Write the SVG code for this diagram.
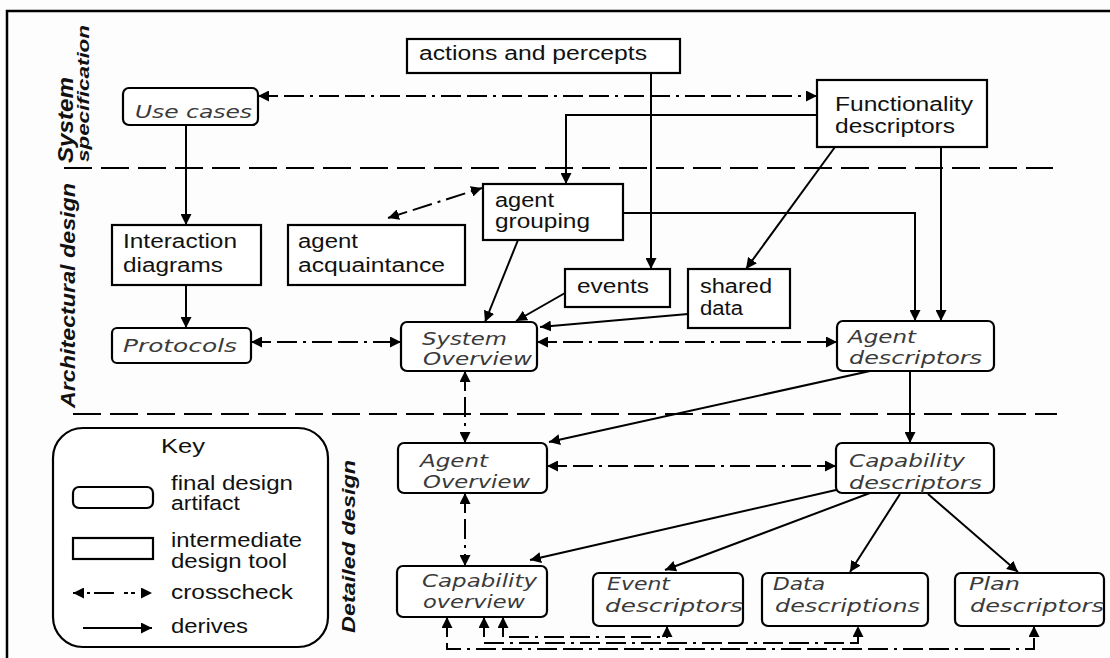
<svg xmlns="http://www.w3.org/2000/svg" width="1110" height="658" viewBox="0 0 1110 658">
<style>
.bg{fill:#fdfdfd}
.frame{fill:none;stroke:#000;stroke-width:2.5}
.sep{fill:none;stroke:#000;stroke-width:2;stroke-dasharray:28 9}
.box{fill:#fff;stroke:#000;stroke-width:2.2}
.t{font-family:"Liberation Sans",Arial,sans-serif;font-size:20px;fill:#111}
.ti{font-family:"DejaVu Sans",sans-serif;font-style:italic;font-size:18px;fill:#3a3a3a}
.lbl{font-family:"Liberation Sans",Arial,sans-serif;font-weight:bold;font-style:italic;fill:#111}
.d{fill:none;stroke:#000;stroke-width:2;marker-end:url(#ah)}
.x{fill:none;stroke:#000;stroke-width:2;stroke-dasharray:20 6 20 6 3 6;marker-start:url(#ah);marker-end:url(#ah)}
</style>
<defs>
<marker id="ah" viewBox="0 0 10 10" refX="10" refY="5" markerWidth="11" markerHeight="11" markerUnits="userSpaceOnUse" orient="auto-start-reverse"><path d="M0,0 L10,5 L0,10 z" fill="#000"/></marker>
</defs>
<rect class="bg" x="0" y="0" width="1110" height="658"/>
<path class="frame" d="M7,658 V11 H1110"/>
<g id="separators">
<path class="sep" d="M64,168 H1053"/>
<path class="sep" d="M73,414 H1057"/>
</g>
<g id="section-labels">
<text class="lbl" font-size="22" transform="translate(73,163) rotate(-90)" textLength="86" lengthAdjust="spacingAndGlyphs">System</text>
<text class="lbl" font-size="16" transform="translate(89,162) rotate(-90)" textLength="137" lengthAdjust="spacingAndGlyphs">specification</text>
<text class="lbl" font-size="21" transform="translate(75,408) rotate(-90)" textLength="225" lengthAdjust="spacingAndGlyphs">Architectural design</text>
<text class="lbl" font-size="19" transform="translate(355,633) rotate(-90)" textLength="173" lengthAdjust="spacingAndGlyphs">Detailed design</text>
</g>
<g id="connectors">
<path class="d" d="M186,125 V225"/>
<path class="d" d="M186,285 V328"/>
<path class="d" d="M817,115 H566 V184"/>
<path class="d" d="M651,73 V269"/>
<path class="d" d="M835,147 L746,269"/>
<path class="d" d="M941,147 V321"/>
<path class="d" d="M623,213 H915 V321"/>
<path class="d" d="M518,240 L485,322"/>
<path class="d" d="M565,293 L516,321"/>
<path class="d" d="M688,314 L540,327"/>
<path class="d" d="M870,371 L549,442"/>
<path class="d" d="M910,371 V443"/>
<path class="d" d="M836,490 L530,560"/>
<path class="d" d="M870,493 L665,570"/>
<path class="d" d="M900,494 L850,572"/>
<path class="d" d="M928,494 L1018,572"/>
<path class="x" d="M258,96 H817"/>
<path class="x" d="M388,218 L482,188"/>
<path class="x" d="M251,342 H401"/>
<path class="x" d="M537,342 H837"/>
<path class="x" d="M465,371 V443"/>
<path class="x" d="M547,466 H836"/>
<path class="x" d="M465,493 V566"/>
<path class="x" d="M503,617 V637 H667 V626"/>
<path class="x" d="M484,617 V643 H858 V626"/>
<path class="x" d="M447,617 V649 H1034 V626"/>
</g>
<g id="actions-and-percepts">
<rect class="box" x="407" y="39" width="273" height="34"/>
<text class="t" x="419" y="60" textLength="228" lengthAdjust="spacingAndGlyphs">actions and percepts</text>
</g>
<g id="use-cases">
<rect class="box" x="123" y="88" width="135" height="37" rx="6"/>
<text class="ti" x="135" y="118" textLength="117" lengthAdjust="spacingAndGlyphs">Use cases</text>
</g>
<g id="functionality-descriptors">
<rect class="box" x="817" y="80" width="170" height="67"/>
<text class="t" x="835" y="111" textLength="138" lengthAdjust="spacingAndGlyphs">Functionality</text>
<text class="t" x="835" y="133" textLength="120" lengthAdjust="spacingAndGlyphs">descriptors</text>
</g>
<g id="interaction-diagrams">
<rect class="box" x="112" y="225" width="149" height="60"/>
<text class="t" x="123" y="248" textLength="114" lengthAdjust="spacingAndGlyphs">Interaction</text>
<text class="t" x="123" y="272" textLength="100" lengthAdjust="spacingAndGlyphs">diagrams</text>
</g>
<g id="agent-acquaintance">
<rect class="box" x="288" y="225" width="177" height="60"/>
<text class="t" x="298" y="248" textLength="60" lengthAdjust="spacingAndGlyphs">agent</text>
<text class="t" x="298" y="272" textLength="147" lengthAdjust="spacingAndGlyphs">acquaintance</text>
</g>
<g id="agent-grouping">
<rect class="box" x="483" y="184" width="140" height="56"/>
<text class="t" x="495" y="207" textLength="59" lengthAdjust="spacingAndGlyphs">agent</text>
<text class="t" x="495" y="228" textLength="95" lengthAdjust="spacingAndGlyphs">grouping</text>
</g>
<g id="events">
<rect class="box" x="565" y="269" width="105" height="38"/>
<text class="t" x="577" y="293" textLength="72" lengthAdjust="spacingAndGlyphs">events</text>
</g>
<g id="shared-data">
<rect class="box" x="688" y="269" width="102" height="59"/>
<text class="t" x="700" y="293" textLength="72" lengthAdjust="spacingAndGlyphs">shared</text>
<text class="t" x="700" y="315" textLength="43" lengthAdjust="spacingAndGlyphs">data</text>
</g>
<g id="protocols">
<rect class="box" x="112" y="328" width="139" height="35" rx="5"/>
<text class="ti" x="123" y="352" textLength="114" lengthAdjust="spacingAndGlyphs">Protocols</text>
</g>
<g id="system-overview">
<rect class="box" x="401" y="322" width="136" height="49" rx="6"/>
<text class="ti" x="422" y="345" textLength="85" lengthAdjust="spacingAndGlyphs">System</text>
<text class="ti" x="423" y="365" textLength="109" lengthAdjust="spacingAndGlyphs">Overview</text>
</g>
<g id="agent-descriptors">
<rect class="box" x="837" y="321" width="157" height="50" rx="6"/>
<text class="ti" x="848" y="343" textLength="68" lengthAdjust="spacingAndGlyphs">Agent</text>
<text class="ti" x="849" y="364" textLength="133" lengthAdjust="spacingAndGlyphs">descriptors</text>
</g>
<g id="agent-overview">
<rect class="box" x="398" y="443" width="149" height="50" rx="6"/>
<text class="ti" x="420" y="467" textLength="68" lengthAdjust="spacingAndGlyphs">Agent</text>
<text class="ti" x="423" y="488" textLength="107" lengthAdjust="spacingAndGlyphs">Overview</text>
</g>
<g id="capability-descriptors">
<rect class="box" x="836" y="443" width="158" height="50" rx="6"/>
<text class="ti" x="849" y="467" textLength="116" lengthAdjust="spacingAndGlyphs">Capability</text>
<text class="ti" x="849" y="489" textLength="133" lengthAdjust="spacingAndGlyphs">descriptors</text>
</g>
<g id="capability-overview">
<rect class="box" x="397" y="566" width="150" height="51" rx="6"/>
<text class="ti" x="422" y="587" textLength="115" lengthAdjust="spacingAndGlyphs">Capability</text>
<text class="ti" x="423" y="608" textLength="102" lengthAdjust="spacingAndGlyphs">overview</text>
</g>
<g id="event-descriptors">
<rect class="box" x="593" y="573" width="150" height="53" rx="6"/>
<text class="ti" x="607" y="590" textLength="63" lengthAdjust="spacingAndGlyphs">Event</text>
<text class="ti" x="605" y="612" textLength="138" lengthAdjust="spacingAndGlyphs">descriptors</text>
</g>
<g id="data-descriptions">
<rect class="box" x="762" y="573" width="166" height="53" rx="6"/>
<text class="ti" x="773" y="590" textLength="52" lengthAdjust="spacingAndGlyphs">Data</text>
<text class="ti" x="775" y="612" textLength="145" lengthAdjust="spacingAndGlyphs">descriptions</text>
</g>
<g id="plan-descriptors">
<rect class="box" x="955" y="573" width="149" height="53" rx="6"/>
<text class="ti" x="969" y="590" textLength="51" lengthAdjust="spacingAndGlyphs">Plan</text>
<text class="ti" x="970" y="612" textLength="134" lengthAdjust="spacingAndGlyphs">descriptors</text>
</g>
<g id="key">
<rect class="box" x="53" y="428" width="275" height="219" rx="30"/>
<text class="t" x="161" y="453" textLength="44" lengthAdjust="spacingAndGlyphs">Key</text>
<rect class="box" x="73" y="487" width="80" height="21" rx="6"/>
<text class="t" x="171" y="490" textLength="122" lengthAdjust="spacingAndGlyphs">final design</text>
<text class="t" x="171" y="510" textLength="69" lengthAdjust="spacingAndGlyphs">artifact</text>
<rect class="box" x="73" y="538" width="80" height="21"/>
<text class="t" x="171" y="547" textLength="131" lengthAdjust="spacingAndGlyphs">intermediate</text>
<text class="t" x="171" y="568" textLength="116" lengthAdjust="spacingAndGlyphs">design tool</text>
<path class="x" d="M73,593 H152" style="stroke-dasharray:10 4 3 4 20"/>
<text class="t" x="171" y="599" textLength="122" lengthAdjust="spacingAndGlyphs">crosscheck</text>
<path class="d" d="M83,628 H152"/>
<text class="t" x="171" y="633" textLength="77" lengthAdjust="spacingAndGlyphs">derives</text>
</g>
</svg>
